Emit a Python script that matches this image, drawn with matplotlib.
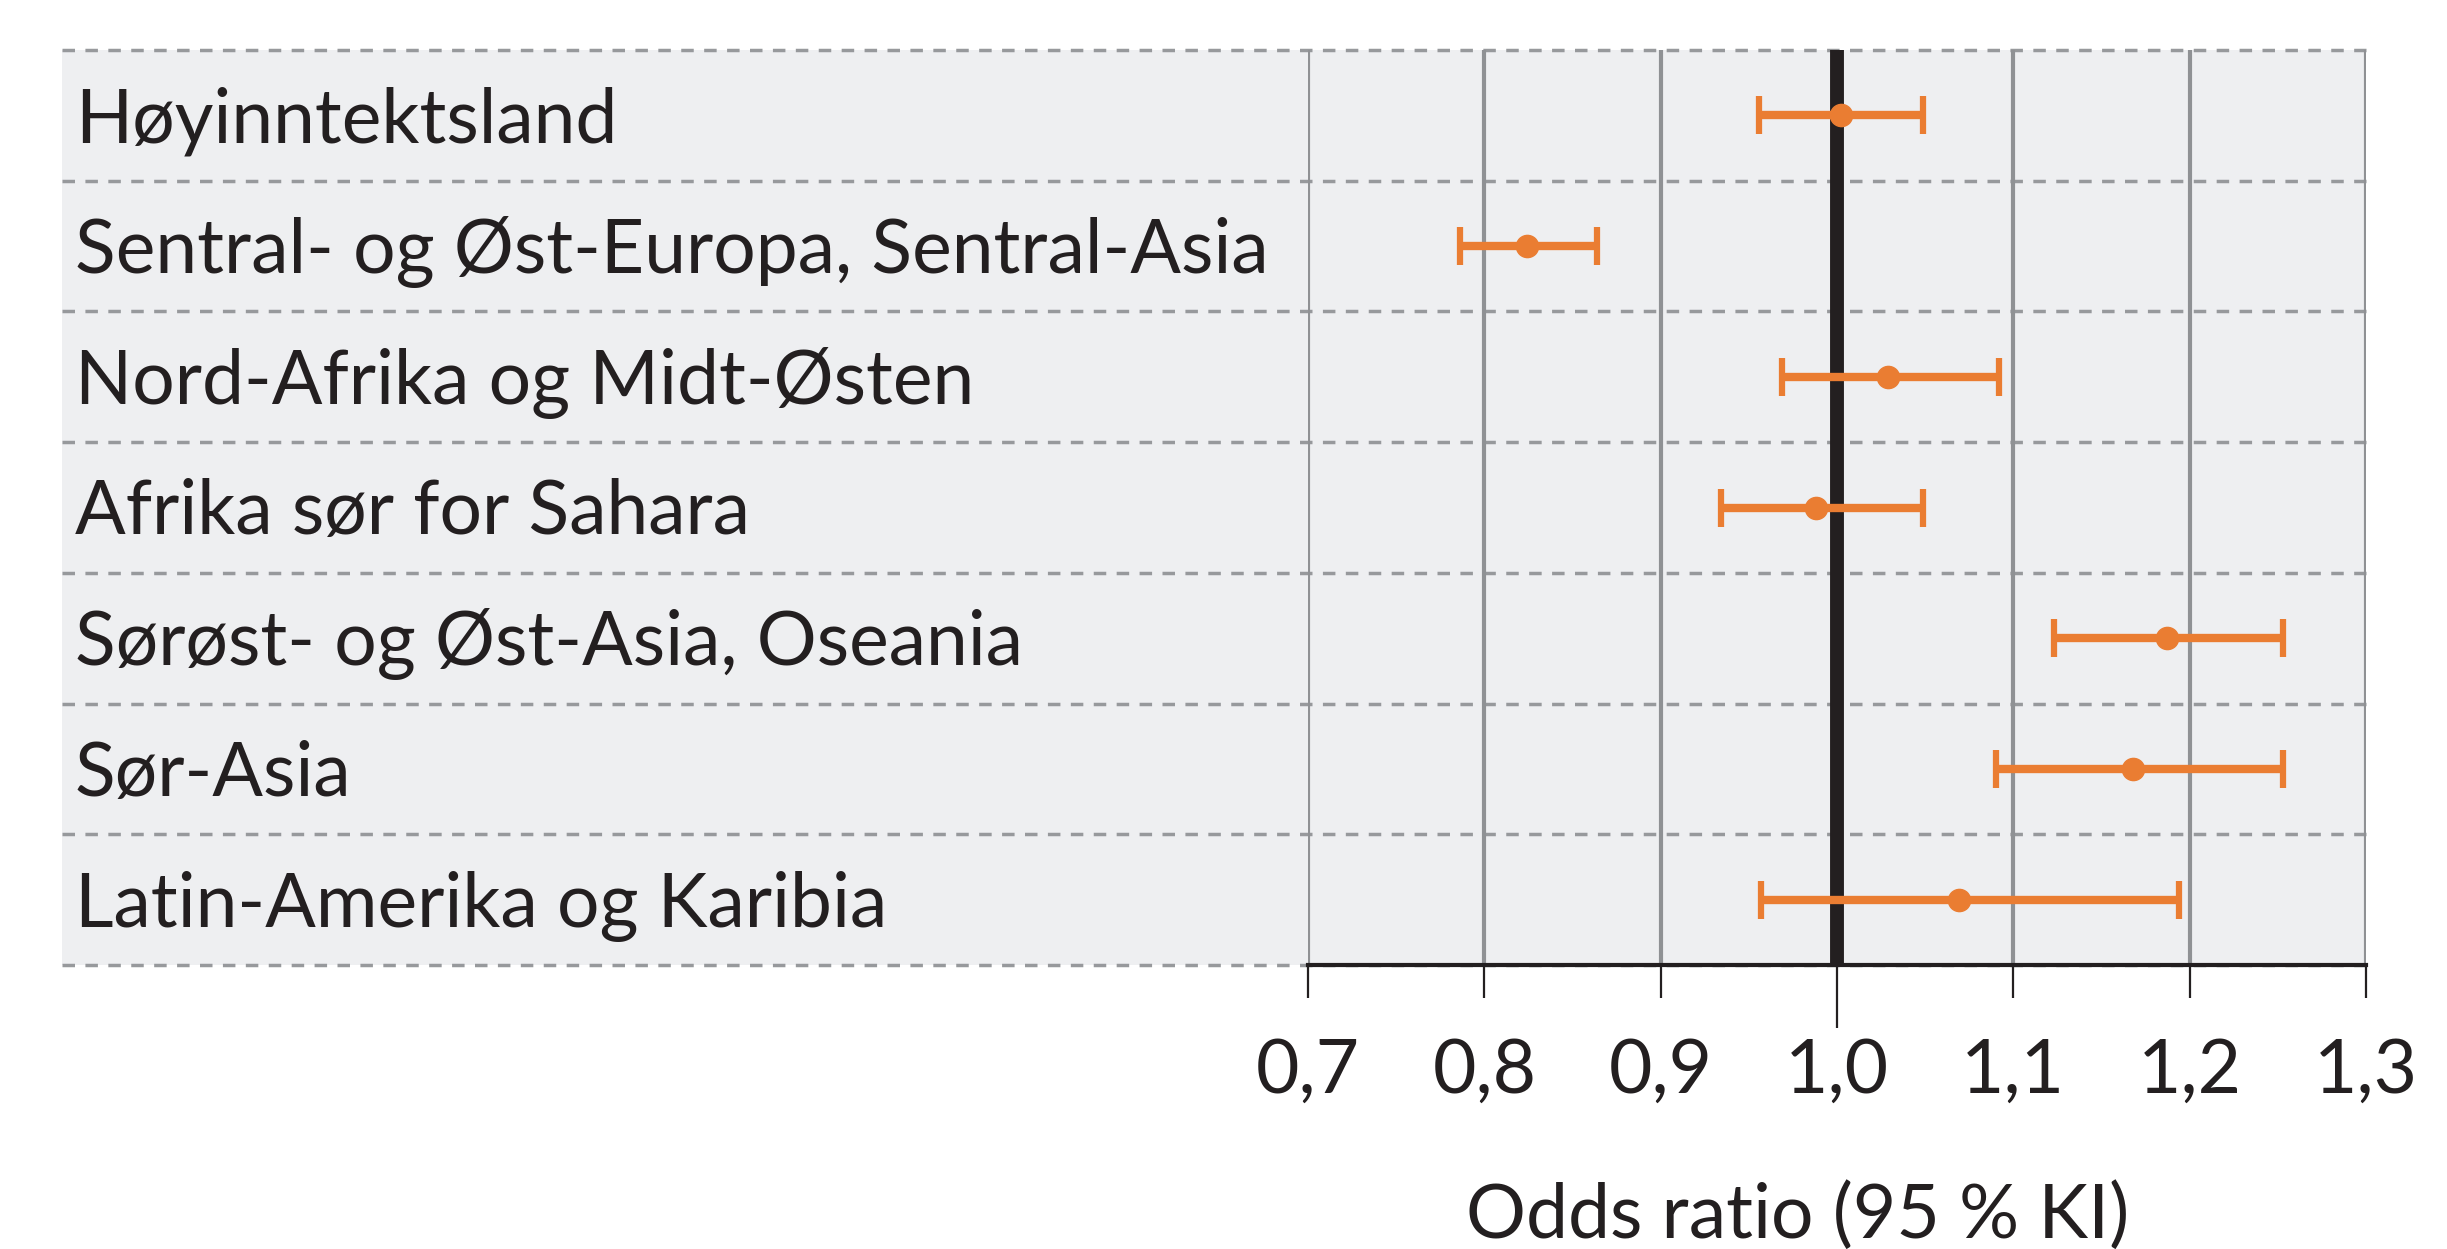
import matplotlib
matplotlib.use("Agg")
import matplotlib.pyplot as plt
import matplotlib.transforms as mtransforms
from matplotlib.patches import Rectangle

plt.rcParams['font.family'] = ['Lato', 'DejaVu Sans']

# data
regions = ["Høyinntektsland",
           "Sentral- og Øst-Europa, Sentral-Asia",
           "Nord-Afrika og Midt-Østen",
           "Afrika sør for Sahara",
           "Sørøst- og Øst-Asia, Oseania",
           "Sør-Asia",
           "Latin-Amerika og Karibia"]
odds = [1.002, 0.824, 1.029, 0.988, 1.187, 1.168, 1.069]
lower = [0.956, 0.786, 0.969, 0.934, 1.123, 1.090, 0.957]
upper = [1.049, 0.864, 1.092, 1.049, 1.253, 1.253, 1.194]
xticks = [0.7, 0.8, 0.9, 1.0, 1.1, 1.2, 1.3]
xticklabels = ["0,7", "0,8", "0,9", "1,0", "1,1", "1,2", "1,3"]
xlabel = "Odds ratio (95 % KI)"

orange = "#EA7D32"
bg = "#EEEFF1"
gridc = "#8F9194"
dashc = "#97999C"
black = "#231F20"

W, H = 2447, 1249
fig = plt.figure(figsize=(W / 100, H / 100), dpi=100)

# axes placement in pixels
x0, x1 = 1308, 2366
ytop, ybot = 50, 965
left_px = 62
ax = fig.add_axes([x0 / W, (H - ybot) / H, (x1 - x0) / W, (ybot - ytop) / H])
ax.set_xlim(0.7, 1.3)
ax.set_ylim(0, len(regions))
ax.patch.set_alpha(0)

# grey background over the label area and plot area
ax.add_patch(Rectangle((left_px / W, (H - ybot) / H), (x1 - left_px) / W,
                       (ybot - ytop) / H, transform=fig.transFigure,
                       facecolor=bg, edgecolor='none', zorder=0, clip_on=False))

blend = mtransforms.blended_transform_factory(fig.transFigure, ax.transData)
n = len(regions)
for k in range(n + 1):
    ax.plot([left_px / W, x1 / W], [k, k], transform=blend, color=dashc,
            lw=2.5, linestyle=(0, (3.6, 3.0)), clip_on=False, zorder=1)

for xv in xticks:
    ax.axvline(xv, color=gridc, lw=3, zorder=1)
ax.axvline(1.0, color=black, lw=10, zorder=2)

ypos = [n - 0.5 - i for i in range(n)]
xerr = [[o - l for o, l in zip(odds, lower)], [u - o for o, u in zip(odds, upper)]]
ax.errorbar(odds, ypos, xerr=xerr, fmt='o', color=orange, ms=16, elinewidth=6,
            capsize=13.5, capthick=4.5, zorder=3)

fs = 54
cap_px = 0.7165 * fs * 100 / 72
row_px = (ybot - ytop) / n
for y, name in zip(ypos, regions):
    ax.text(75 / W, y - cap_px / 2 / row_px, name, transform=blend, fontsize=fs,
            color=black, va='baseline', ha='left')

for s in ['top', 'left', 'right']:
    ax.spines[s].set_visible(False)
ax.spines['bottom'].set_color(black)
ax.spines['bottom'].set_linewidth(3)
ax.spines['bottom'].set_zorder(4)

ax.set_yticks([])
ax.set_xticks(xticks)
ax.set_xticklabels(xticklabels)
ax.tick_params(axis='x', direction='out', length=24, width=1.6, color=black,
               labelsize=fs, labelcolor=black, pad=28)
ax.xaxis.get_major_ticks()[3].tick1line.set_markersize(45)

fig.text(1798 / W, (H - 1238) / H, xlabel, fontsize=fs, color=black,
         ha='center', va='baseline')

fig.savefig("out.png", dpi=100)
